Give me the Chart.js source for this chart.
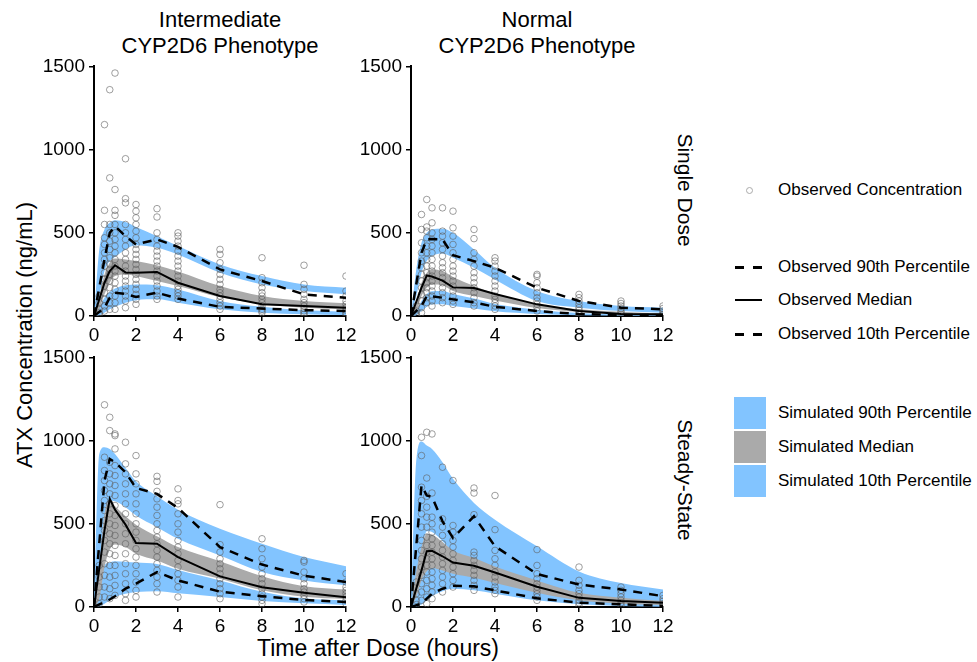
<!DOCTYPE html>
<html>
<head>
<meta charset="utf-8">
<script src="https://cdn.jsdelivr.net/npm/chart.js@4.4.1/dist/chart.umd.min.js"></script>
<style>
  body { margin: 0; background: #fff; font-family: 'Liberation Sans', Arial, sans-serif; color: #000; }
  #page { position: relative; width: 977px; height: 662px; overflow: hidden; }
  canvas { position: absolute; }
  .txt { position: absolute; white-space: nowrap; }
  .colTitle { font-size: 22px; line-height: 26px; text-align: center; transform: translateX(-50%); top: 7px; }
  .rot { transform: translate(-50%, -50%) rotate(90deg); font-size: 21px; }
  .leg { position: absolute; font-size: 17px; left: 778px; transform: translateY(-50%); white-space: nowrap; }
  .dash { position: absolute; height: 2.5px; width: 9px; background: #000; }
  .sq { position: absolute; left: 734px; width: 32px; height: 32px; }
</style>
</head>
<body>
<div id="page">
  <div class="txt colTitle" style="left:220px">Intermediate<br>CYP2D6 Phenotype</div>
  <div class="txt colTitle" style="left:537px">Normal<br>CYP2D6 Phenotype</div>
  <div class="txt rot" style="left:685px; top:190px">Single Dose</div>
  <div class="txt rot" style="left:685px; top:480px">Steady-State</div>
  <div class="txt" style="left:25px; top:335px; font-size:22px; transform:translate(-50%,-50%) rotate(-90deg)">ATX Concentration (ng/mL)</div>
  <div class="txt" style="left:378px; top:648px; font-size:23px; transform:translate(-50%,-50%)">Time after Dose (hours)</div>

  <canvas id="tl" width="336" height="305" style="left:24px; top:51px"></canvas>
  <canvas id="tr" width="336" height="305" style="left:341px; top:51px"></canvas>
  <canvas id="bl" width="336" height="305" style="left:24px; top:342px"></canvas>
  <canvas id="br" width="336" height="305" style="left:341px; top:342px"></canvas>

  <!-- legend -->
  <div style="position:absolute; left:746px; top:187px; width:5px; height:5px; border:1px solid #aaa; border-radius:50%"></div>
  <div class="leg" style="top:190px">Observed Concentration</div>
  <div class="dash" style="left:735px; top:266px"></div><div class="dash" style="left:753px; top:266px"></div>
  <div class="leg" style="top:267px">Observed 90th Percentile</div>
  <div style="position:absolute; left:735px; top:299px; width:27px; height:2px; background:#000"></div>
  <div class="leg" style="top:300px">Observed Median</div>
  <div class="dash" style="left:735px; top:333px"></div><div class="dash" style="left:753px; top:333px"></div>
  <div class="leg" style="top:334px">Observed 10th Percentile</div>
  <div class="sq" style="top:397px; background:rgb(130,196,255)"></div>
  <div class="leg" style="top:413px">Simulated 90th Percentile</div>
  <div class="sq" style="top:431px; background:#aaa"></div>
  <div class="leg" style="top:447px">Simulated Median</div>
  <div class="sq" style="top:465px; background:rgb(130,196,255)"></div>
  <div class="leg" style="top:481px">Simulated 10th Percentile</div>
</div>

<script>
// temps nominaux (heures)
const obsTimes = [0, 0.5, 0.75, 1, 1.5, 2, 3, 4, 6, 8, 10, 12];
const simTimes = [0, 0.25, 0.5, 0.75, 1, 1.5, 2, 3, 4, 6, 8, 10, 12];

// ---- Intermediate, Single Dose ----
const imSdP90 = [0, 340, 500, 540, 480, 430, 460, 415, 280, 210, 130, 110];
const imSdP50 = [0, 200, 270, 305, 262, 260, 265, 200, 120, 70, 60, 50];
const imSdP10 = [0, 50, 110, 140, 132, 115, 140, 105, 55, 45, 35, 30];
const imSdS90Hi = [0, 400, 520, 560, 575, 565, 535, 480, 420, 310, 240, 190, 170];
const imSdS90Lo = [0, 120, 270, 330, 355, 400, 425, 410, 370, 260, 190, 150, 130];
const imSdS50Hi = [0, 120, 250, 320, 345, 340, 330, 305, 268, 180, 120, 90, 76];
const imSdS50Lo = [0, 40, 130, 200, 240, 250, 240, 210, 180, 112, 72, 50, 40];
const imSdS10Hi = [0, 50, 110, 145, 165, 185, 190, 185, 160, 90, 55, 35, 26];
const imSdS10Lo = [0, 5, 20, 40, 55, 80, 95, 100, 80, 40, 20, 10, 6];
const imSdObs = [
  [0.25, 120, 80, 40, 20, 10],
  [0.5, 1150, 635, 550, 470, 430, 380, 340, 300, 260, 220, 180, 140, 100, 60, 30],
  [0.75, 1360, 830, 550, 500, 450, 400, 350, 310, 280, 250, 210, 170, 120, 80, 40],
  [1, 1460, 760, 635, 605, 550, 500, 460, 420, 380, 340, 300, 270, 240, 200, 160, 120, 80, 40],
  [1.5, 945, 705, 680, 550, 500, 460, 420, 380, 340, 300, 270, 240, 210, 180, 150, 120, 90, 50],
  [2, 670, 630, 590, 550, 510, 470, 430, 400, 370, 340, 310, 280, 250, 220, 190, 160, 130, 100, 70],
  [3, 645, 595, 500, 460, 420, 390, 360, 330, 300, 270, 240, 210, 180, 150, 120, 100],
  [4, 500, 480, 450, 420, 390, 360, 330, 300, 270, 240, 210, 180, 160, 140, 120, 100],
  [6, 400, 370, 320, 280, 250, 220, 190, 160, 140, 120, 100, 80, 60, 40],
  [8, 350, 230, 200, 170, 140, 120, 100, 80, 60, 40, 30, 20],
  [10, 305, 190, 160, 130, 100, 80, 60, 45, 30, 20, 10],
  [12, 240, 150, 120, 90, 70, 50, 35, 20, 10]
];

// ---- Normal, Single Dose ----
const nmSdP90 = [0, 380, 460, 462, 460, 365, 330, 290, 170, 90, 50, 40];
const nmSdP50 = [0, 170, 243, 237, 213, 172, 168, 132, 70, 30, 12, 10];
const nmSdP10 = [0, 60, 120, 118, 110, 100, 82, 55, 30, 12, 6, 5];
const nmSdS90Hi = [0, 280, 440, 500, 520, 525, 500, 400, 290, 150, 90, 60, 50];
const nmSdS90Lo = [0, 120, 260, 330, 360, 375, 350, 290, 220, 90, 50, 30, 20];
const nmSdS50Hi = [0, 80, 200, 260, 280, 270, 235, 180, 135, 70, 40, 25, 15];
const nmSdS50Lo = [0, 30, 120, 170, 190, 185, 150, 120, 93, 48, 24, 12, 6];
const nmSdS10Hi = [0, 30, 90, 130, 148, 150, 132, 105, 72, 38, 18, 9, 5];
const nmSdS10Lo = [0, 5, 30, 55, 70, 70, 60, 45, 28, 12, 5, 2, 1];
const nmSdObs = [
  [0.25, 60, 30, 15, 5],
  [0.5, 610, 520, 440, 380, 330, 290, 250, 210, 170, 130, 90, 50, 20],
  [0.75, 700, 535, 510, 470, 420, 380, 340, 300, 260, 230, 200, 170, 140, 110, 80],
  [1, 650, 560, 500, 460, 420, 380, 340, 300, 270, 240, 210, 180, 150, 120, 90, 60],
  [1.5, 650, 510, 480, 440, 400, 360, 320, 290, 260, 230, 200, 170, 140, 110, 80],
  [2, 630, 530, 480, 430, 380, 340, 300, 270, 240, 210, 180, 150, 120, 90, 70],
  [3, 520, 465, 380, 340, 300, 260, 230, 200, 170, 140, 110, 80, 60],
  [4, 350, 330, 300, 270, 240, 210, 180, 150, 120, 100, 80, 60, 40],
  [6, 250, 240, 200, 170, 140, 110, 90, 70, 50, 30],
  [8, 130, 110, 90, 70, 50, 35, 20, 10],
  [10, 90, 75, 60, 45, 30, 20, 10],
  [12, 60, 45, 30, 20, 10, 5]
];

// ---- Intermediate, Steady-State ----
const imSsP90 = [0, 760, 890, 870, 810, 715, 680, 595, 360, 255, 188, 150];
const imSsP50 = [0, 460, 650, 585, 495, 385, 380, 300, 184, 119, 85, 59];
const imSsP10 = [0, 30, 45, 65, 110, 140, 210, 160, 92, 65, 42, 30];
const imSsS90Hi = [0, 920, 960, 950, 920, 835, 755, 665, 585, 470, 380, 300, 245];
const imSsS90Lo = [0, 200, 480, 640, 635, 600, 550, 480, 410, 310, 210, 160, 130];
const imSsS50Hi = [0, 250, 560, 635, 605, 545, 495, 425, 360, 275, 185, 125, 105];
const imSsS50Lo = [0, 50, 240, 345, 375, 360, 320, 280, 230, 170, 100, 62, 48];
const imSsS10Hi = [0, 150, 250, 268, 275, 272, 267, 258, 222, 160, 92, 52, 38];
const imSsS10Lo = [0, 5, 20, 40, 60, 80, 90, 95, 82, 60, 36, 22, 12];
const imSsObs = [
  [0.25, 250, 180, 120, 60, 20],
  [0.5, 1215, 900, 820, 760, 700, 640, 580, 520, 460, 400, 330, 260, 190, 120, 60],
  [0.75, 1140, 1060, 870, 800, 740, 680, 620, 560, 500, 440, 380, 320, 250, 180, 110, 50],
  [1, 1040, 1030, 950, 850, 790, 730, 670, 610, 550, 490, 430, 370, 310, 250, 190, 130, 70],
  [1.5, 990, 860, 800, 740, 680, 620, 560, 500, 440, 380, 320, 260, 200, 140, 80, 40],
  [2, 910, 800, 740, 680, 620, 560, 500, 450, 400, 350, 300, 250, 200, 150, 100, 60],
  [3, 785, 755, 695, 650, 600, 550, 500, 460, 420, 380, 340, 300, 260, 220, 180, 140, 90],
  [4, 710, 640, 620, 560, 500, 450, 400, 360, 320, 280, 240, 200, 160, 120, 60],
  [6, 615, 375, 330, 290, 260, 230, 200, 170, 140, 110, 80, 50],
  [8, 410, 350, 290, 240, 200, 170, 140, 110, 80, 60, 40, 20],
  [10, 280, 270, 210, 170, 140, 110, 90, 70, 50, 30],
  [12, 200, 150, 120, 100, 80, 60, 40, 20]
];

// ---- Normal, Steady-State ----
const nmSsP90 = [0, 730, 670, 662, 515, 415, 545, 365, 198, 135, 105, 65];
const nmSsP50 = [0, 220, 335, 338, 305, 267, 248, 207, 122, 55, 36, 26];
const nmSsP10 = [0, 20, 50, 80, 110, 128, 124, 100, 52, 26, 16, 6];
const nmSsS90Hi = [0, 880, 995, 970, 950, 870, 770, 625, 525, 365, 214, 144, 105];
const nmSsS90Lo = [0, 180, 330, 455, 450, 395, 330, 270, 220, 145, 75, 48, 30];
const nmSsS50Hi = [0, 210, 360, 440, 435, 390, 340, 295, 243, 160, 85, 55, 36];
const nmSsS50Lo = [0, 60, 160, 215, 235, 220, 200, 176, 144, 85, 40, 20, 12];
const nmSsS10Hi = [0, 80, 190, 240, 260, 245, 220, 190, 160, 100, 50, 28, 18];
const nmSsS10Lo = [0, 2, 15, 40, 65, 95, 110, 100, 80, 40, 16, 6, 2];
const nmSsObs = [
  [0.25, 150, 80, 40, 15],
  [0.5, 1020, 910, 720, 640, 560, 480, 400, 340, 290, 240, 190, 140, 90, 40],
  [0.75, 1050, 775, 665, 600, 540, 480, 420, 370, 330, 290, 250, 210, 160, 110, 60, 20],
  [1, 1040, 685, 540, 500, 450, 410, 370, 330, 290, 250, 210, 170, 130, 90, 50],
  [1.5, 840, 530, 480, 430, 380, 340, 300, 260, 220, 180, 140, 90],
  [2, 760, 490, 450, 400, 360, 320, 280, 240, 200, 160, 120],
  [3, 715, 685, 555, 330, 310, 280, 250, 220, 190, 160, 130, 100],
  [4, 670, 465, 340, 290, 250, 210, 180, 150, 120, 100, 80],
  [6, 345, 250, 200, 170, 140, 120, 100, 80, 60, 40],
  [8, 240, 160, 130, 100, 80, 60, 40, 25, 10],
  [10, 120, 100, 80, 60, 40, 25, 10],
  [12, 70, 50, 35, 20, 10]
];

const BLUE = 'rgb(130,196,255)';
const GREY = 'rgb(170,170,170)';

Chart.defaults.font.family = "'Liberation Sans', Arial, sans-serif";
Chart.defaults.color = '#000';

function xy(times, vals) {
  return vals.map((v, i) => ({ x: times[i], y: v }));
}

function obsPoints(rows) {
  const pts = [];
  rows.forEach(r => {
    for (let i = 1; i < r.length; i++) pts.push({ x: r[0], y: r[i] });
  });
  return pts;
}

function band(hi, lo, color) {
  // bordo superiore + bordo inferiore riempito verso il precedente
  const common = { pointRadius: 0, borderWidth: 0, tension: 0, cubicInterpolationMode: 'monotone' };
  return [
    Object.assign({ data: xy(simTimes, hi), fill: false, borderColor: color }, common),
    Object.assign({ data: xy(simTimes, lo), fill: '-1', borderColor: color, backgroundColor: color }, common)
  ];
}

function obsLine(vals, dashed) {
  return {
    data: xy(obsTimes, vals),
    borderColor: '#000',
    borderWidth: dashed ? 2.5 : 2,
    borderDash: dashed ? [9, 7] : [],
    pointRadius: 0,
    fill: false,
    tension: 0
  };
}

function makePanel(id, p90, p50, p10, s90hi, s90lo, s50hi, s50lo, s10hi, s10lo, obs) {
  const ctx = document.getElementById(id).getContext('2d');
  const axisFont = { size: 19 };
  return new Chart(ctx, {
    type: 'line',
    data: {
      datasets: [
        obsLine(p90, true),
        obsLine(p50, false),
        obsLine(p10, true),
        {
          type: 'scatter',
          data: obsPoints(obs),
          pointRadius: 3.3,
          pointBorderWidth: 1,
          pointBorderColor: 'rgba(95,95,95,0.6)',
          pointBackgroundColor: 'rgba(0,0,0,0)',
          showLine: false
        },
        ...band(s50hi, s50lo, GREY),
        ...band(s90hi, s90lo, BLUE),
        ...band(s10hi, s10lo, BLUE)
      ]
    },
    options: {
      responsive: false,
      animation: false,
      devicePixelRatio: 1,
      layout: { padding: { top: 12, right: 14, left: 0, bottom: 0 }, autoPadding: false },
      plugins: { legend: { display: false }, tooltip: { enabled: false } },
      scales: {
        x: {
          type: 'linear', min: 0, max: 12,
          afterFit: s => { s.height = 40; },
          ticks: { stepSize: 2, font: axisFont, color: '#000', padding: 3, maxRotation: 0, autoSkip: false,
                   callback: v => String(v) },
          grid: { drawOnChartArea: false, tickLength: 5, color: '#000', lineWidth: 1.5 },
          border: { color: '#000', width: 2 }
        },
        y: {
          type: 'linear', min: 0, max: 1500,
          afterFit: s => { s.width = 70; },
          ticks: { stepSize: 500, font: axisFont, color: '#000', padding: 4, callback: v => String(v) },
          grid: { drawOnChartArea: false, tickLength: 5, color: '#000', lineWidth: 1.5 },
          border: { color: '#000', width: 2 }
        }
      }
    }
  });
}

makePanel('tl', imSdP90, imSdP50, imSdP10, imSdS90Hi, imSdS90Lo, imSdS50Hi, imSdS50Lo, imSdS10Hi, imSdS10Lo, imSdObs);
makePanel('tr', nmSdP90, nmSdP50, nmSdP10, nmSdS90Hi, nmSdS90Lo, nmSdS50Hi, nmSdS50Lo, nmSdS10Hi, nmSdS10Lo, nmSdObs);
makePanel('bl', imSsP90, imSsP50, imSsP10, imSsS90Hi, imSsS90Lo, imSsS50Hi, imSsS50Lo, imSsS10Hi, imSsS10Lo, imSsObs);
makePanel('br', nmSsP90, nmSsP50, nmSsP10, nmSsS90Hi, nmSsS90Lo, nmSsS50Hi, nmSsS50Lo, nmSsS10Hi, nmSsS10Lo, nmSsObs);
</script>
</body>
</html>
